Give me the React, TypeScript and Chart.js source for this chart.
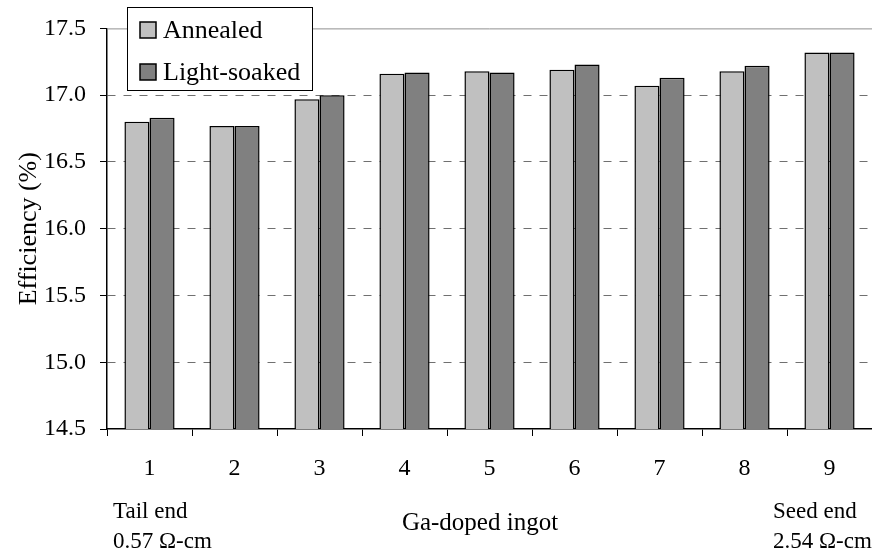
import React, { useEffect, useRef } from "react";
import { Chart, registerables } from "chart.js";

Chart.register(...registerables);

const categories = ["1", "2", "3", "4", "5", "6", "7", "8", "9"];
const annealed = [16.8, 16.77, 16.97, 17.16, 17.18, 17.19, 17.07, 17.18, 17.32];
const lightSoaked = [16.83, 16.77, 17.0, 17.17, 17.17, 17.23, 17.13, 17.22, 17.32];
const seriesLabels = ["Annealed", "Light-soaked"];
const seriesColors = ["#c0c0c0", "#808080"];
const yTitle = "Efficiency (%)";
const xTitle = "Ga-doped ingot";
const leftNote = ["Tail end", "0.57 Ω-cm"];
const rightNote = ["Seed end", "2.54 Ω-cm"];

const FONT = "'Liberation Serif', 'Times New Roman', serif";

const extrasPlugin = {
  id: "extras",
  afterDraw(chart: any) {
    const { ctx, chartArea } = chart;
    ctx.save();
    // top solid gridline
    ctx.strokeStyle = "#909090";
    ctx.lineWidth = 1;
    ctx.beginPath();
    ctx.moveTo(chartArea.left, chartArea.top + 0.5);
    ctx.lineTo(chartArea.right, chartArea.top + 0.5);
    ctx.stroke();

    // legend box
    const bx = 127, by = 7, bw = 185, bh = 83;
    ctx.fillStyle = "#fff";
    ctx.fillRect(bx, by, bw, bh);
    ctx.strokeStyle = "#000";
    ctx.lineWidth = 1;
    ctx.strokeRect(bx + 0.5, by + 0.5, bw, bh);
    ctx.font = `26px ${FONT}`;
    ctx.textBaseline = "alphabetic";
    ctx.textAlign = "left";
    chart.data.datasets.forEach((ds: any, i: number) => {
      const rowY = 22 + i * 42;
      ctx.fillStyle = ds.backgroundColor;
      ctx.fillRect(140, rowY, 16, 16);
      ctx.strokeStyle = "#000";
      ctx.lineWidth = 1.5;
      ctx.strokeRect(140, rowY, 16, 16);
      ctx.fillStyle = "#000";
      ctx.fillText(ds.label, 163, rowY + 16);
    });

    // bottom notes
    ctx.font = `23px ${FONT}`;
    ctx.fillStyle = "#000";
    ctx.textAlign = "left";
    ctx.fillText(leftNote[0], 113, 518);
    ctx.fillText(leftNote[1], 113, 548);
    ctx.fillText(rightNote[0], 773, 518);
    ctx.fillText(rightNote[1], 773, 548);
    ctx.font = `25px ${FONT}`;
    ctx.textAlign = "center";
    ctx.fillText(xTitle, 480, 530);
    ctx.restore();
  },
};

export default function App() {
  const ref = useRef<HTMLCanvasElement | null>(null);
  useEffect(() => {
    if (!ref.current) return;
    const chart = new Chart(ref.current, {
      type: "bar",
      data: {
        labels: categories,
        datasets: [
          {
            label: seriesLabels[0],
            data: annealed,
            backgroundColor: seriesColors[0],
            borderColor: "#000",
            borderWidth: 1.5,
          },
          {
            label: seriesLabels[1],
            data: lightSoaked,
            backgroundColor: seriesColors[1],
            borderColor: "#000",
            borderWidth: 1.5,
          },
        ],
      },
      options: {
        responsive: false,
        animation: false,
        layout: { padding: { top: 27, right: 0, bottom: 0, left: 0 } },
        plugins: { legend: { display: false }, tooltip: { enabled: false } },
        datasets: { bar: { categoryPercentage: 0.59, barPercentage: 1.0 } },
        scales: {
          x: {
            type: "category",
            offset: true,
            grid: {
              offset: true,
              drawOnChartArea: false,
              drawTicks: true,
              tickLength: 7,
              color: "#000",
              lineWidth: 1,
            },
            border: { color: "#000", width: 1.5 },
            ticks: {
              color: "#000",
              font: { family: FONT, size: 24 },
              padding: 18,
              maxRotation: 0,
            },
            afterFit: (s: any) => {
              s.height = 121;
            },
          },
          y: {
            min: 14.5,
            max: 17.5,
            ticks: {
              stepSize: 0.5,
              color: "#000",
              font: { family: FONT, size: 24 },
              padding: 14,
              callback: (v: any) => Number(v).toFixed(1),
            },
            grid: {
              color: (c: any) => {
                const v = c.tick ? c.tick.value : null;
                if (v === null) return "#808080";
                if (Math.abs(v - 17.5) < 1e-6 || Math.abs(v - 14.5) < 1e-6) return "rgba(0,0,0,0)";
                return "#707070";
              },
              tickColor: "#000",
              tickLength: 7,
              lineWidth: 1,
            },
            border: { color: "#000", width: 1.5, dash: [8, 8] },
            title: {
              display: true,
              text: yTitle,
              color: "#000",
              font: { family: FONT, size: 26 },
              padding: { top: 14, bottom: 0 },
            },
            afterFit: (s: any) => {
              s.width = 107;
            },
          },
        },
      },
      plugins: [extrasPlugin],
    });
    return () => chart.destroy();
  }, []);
  return (
    <div style={{ position: "fixed", left: 0, top: 0, width: 872, height: 550, background: "#fff" }}>
      <canvas ref={ref} width={872} height={550} />
    </div>
  );
}
